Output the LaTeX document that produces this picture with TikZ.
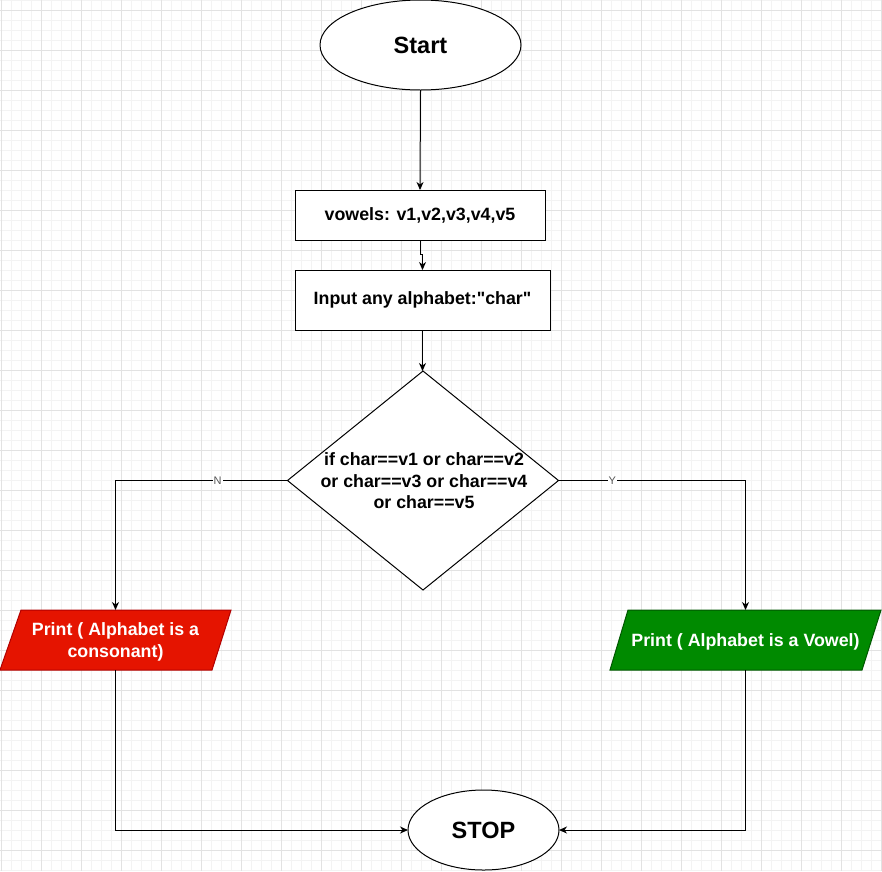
\documentclass[tikz,border=0pt]{standalone}
\usepackage{fontspec}
\setmainfont{Liberation Sans}[Ligatures=TeXOff]
\usetikzlibrary{shapes.geometric,arrows.meta}
\definecolor{gridminor}{HTML}{F3F3F3}
\definecolor{gridmajor}{HTML}{E2E2E2}
\definecolor{redfill}{HTML}{E51400}
\definecolor{redline}{HTML}{B20000}
\definecolor{greenfill}{HTML}{008A00}
\definecolor{greenline}{HTML}{005700}
\definecolor{labelgrey}{HTML}{555555}
\tikzset{
  arr/.style={draw=black, line width=1pt, -{Stealth[length=8pt,width=7pt,inset=2.5pt]}},
  bodytext/.style={font=\fontsize{17.8pt}{21.5pt}\selectfont\bfseries, align=center},
  termbox/.style={ellipse, draw=black, line width=1pt, fill=white, inner sep=0pt, outer sep=0pt,
                  font=\fontsize{23.5pt}{28pt}\selectfont\bfseries},
  procbox/.style={rectangle, draw=black, line width=1pt, fill=white, inner sep=0pt, outer sep=0pt, bodytext},
  edgelabel/.style={fill=white, inner sep=1pt, text=labelgrey, font=\fontsize{11pt}{13pt}\selectfont},
  iotext/.style={inner sep=0pt, outer sep=0pt, text=white, bodytext}
}
\begin{document}
\begin{tikzpicture}[x=1pt,y=-1pt]
\useasboundingbox (0,0) rectangle (882,871);
\fill[white] (0,0) rectangle (882,871);
% grid
\foreach \gx in {1,11,...,881} \draw[gridminor, line width=0.8pt] (\gx,0) -- (\gx,871);
\foreach \gy in {0,10,...,870} \draw[gridminor, line width=0.8pt] (0,\gy) -- (882,\gy);
\foreach \gx in {1,41,...,881} \draw[gridmajor, line width=0.8pt] (\gx,0) -- (\gx,871);
\foreach \gy in {10,50,...,870} \draw[gridmajor, line width=0.8pt] (0,\gy) -- (882,\gy);

% nodes
\node[termbox, minimum width=201pt, minimum height=90pt] (start) at (420.5,45) {Start};
\node[procbox, minimum width=250pt, minimum height=50pt] (vowels) at (420,215) {vowels: v1,v2,v3,v4,v5};
\node[procbox, minimum width=255pt, minimum height=60pt] (input) at (422.5,300) {Input any alphabet:"char"};
\node[diamond, draw=black, line width=1pt, fill=white, inner sep=0pt, outer sep=0pt,
      minimum width=271pt, minimum height=219pt] (dec) at (423,480.5) {};
\node[bodytext, inner sep=0pt] (dectext) at (424,481) {if char==v1 or char==v2\\ or char==v3 or char==v4\\ or char==v5};

% red parallelogram
\fill[redfill, draw=redline, line width=1pt] (21,610) -- (231,610) -- (212,670) -- (0,670) -- cycle;
\node[iotext, minimum width=190pt, minimum height=60pt] (red) at (115.5,640) {};
\node[iotext] (redtext) at (115.5,642) {Print ( Alphabet is a\\consonant)};
% green parallelogram
\fill[greenfill, draw=greenline, line width=1pt] (628,610) -- (881,610) -- (862,670) -- (610,670) -- cycle;
\node[iotext, minimum width=230pt, minimum height=60pt] (green) at (745.5,640) {};
\node[iotext] (greentext) at (745.5,641.5) {Print ( Alphabet is a Vowel)};

\node[termbox, minimum width=151pt, minimum height=80pt] (stop) at (483.5,830) {STOP};

% connectors
\draw[arr] (start.south) -- (vowels.north);
\draw[arr] (vowels.south) -- ++(0,14) -| (input.north);
\draw[arr] (input.south) -- (input.south |- dec.north);
\draw[arr] (dec.west) -| node[edgelabel, pos=0.203] {N} (red.north);
\draw[arr] (dec.east) -| node[edgelabel, pos=0.144] {Y} (green.north);
\draw[arr] (red.south) |- (stop.west);
\draw[arr] (green.south) |- (stop.east);
\end{tikzpicture}
\end{document}
